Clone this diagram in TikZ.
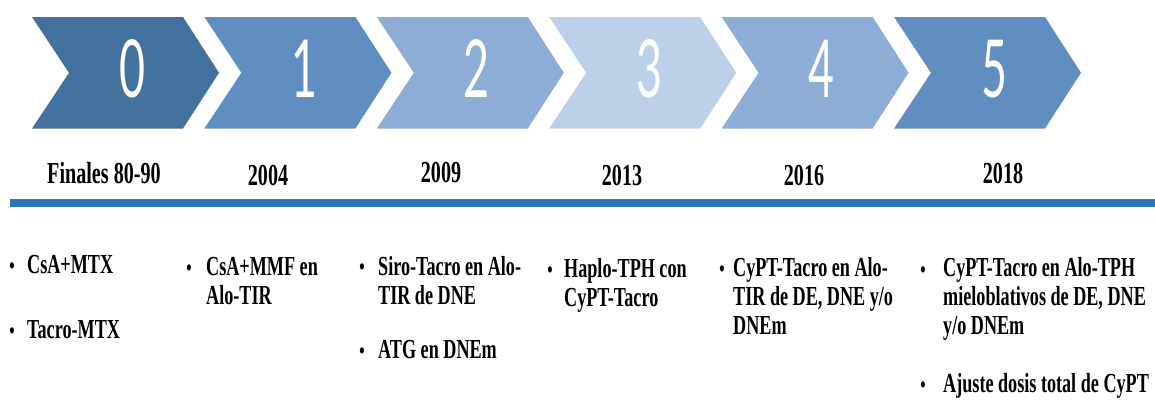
\documentclass[tikz,border=0pt]{standalone}
\usepackage{fontspec}
\setmainfont{Liberation Serif}[FakeStretch=0.66]
\newfontfamily\numfont{Lato}[FakeStretch=0.56]

\definecolor{stepA}{RGB}{65,113,156}
\definecolor{stepB}{RGB}{96,142,193}
\definecolor{stepC}{RGB}{142,173,214}
\definecolor{stepD}{RGB}{189,208,233}
\definecolor{axisblue}{RGB}{46,117,182}

\tikzset{
  num/.style={text=white, inner sep=0pt, font=\numfont\fontsize{80}{80}\selectfont},
  year/.style={anchor=base, inner sep=0pt, font=\bfseries\fontsize{30.5}{30.5}\selectfont},
  % multi-line items are placed by the baseline of their last line
  item/.style={anchor=base west, inner sep=0pt, align=left,
    font=\bfseries\fontsize{27.5}{29}\selectfont},
  dot/.style={anchor=base, inner sep=0pt, font=\bfseries\fontsize{23}{23}\selectfont},
  axis/.style={draw=axisblue, line width=8pt}
}

\begin{document}
\begin{tikzpicture}[x=1pt, y=-1pt]
\clip (0,0) rectangle (1155,405);
\fill[white] (0,0) rectangle (1155,405);

% chevrons with their step numbers
\foreach \i/\c in {0/stepA,1/stepB,2/stepC,3/stepD,4/stepC,5/stepB} {
  \pgfmathsetmacro\L{32+172.4*\i}
  \fill[\c] (\L,17) -- (\L+151,17) -- (\L+187,72.8) -- (\L+151,128.5)
    -- (\L,128.5) -- (\L+37,72.8) -- cycle;
  \node[num] (n\i) at (\L+100,69) {\i};
}

% years
\node[year] (y0) at (104,183) {Finales 80-90};
\node[year] (y1) at (268,185) {2004};
\node[year] (y2) at (441,182) {2009};
\node[year] (y3) at (622,185) {2013};
\node[year] (y4) at (804,185) {2016};
\node[year] (y5) at (1003,183) {2018};

% time axis
\coordinate (axL) at (10,203);
\coordinate (axR) at (1160,203);
\draw[axis] (axL) -- (axR);

% column 0
\node[dot] (b0a) at (12,273) {•};
\node[item] (t0a) at (27,273) {CsA+MTX};
\node[dot] (b0b) at (12,338) {•};
\node[item] (t0b) at (27,338) {Tacro-MTX};

% column 1
\node[dot] (b1a) at (189,275) {•};
\node[item] (t1a) at (206,304) {CsA+MMF en\\Alo-TIR};

% column 2
\node[dot] (b2a) at (362,274) {•};
\node[item] (t2a) at (378,304) {Siro-Tacro en Alo-\\TIR de DNE};
\node[dot] (b2b) at (362,358) {•};
\node[item] (t2b) at (378,358) {ATG en DNEm};

% column 3
\node[dot] (b3a) at (550,277) {•};
\node[item] (t3a) at (564,306) {Haplo-TPH con\\CyPT-Tacro};

% column 4
\node[dot] (b4a) at (722,276) {•};
\node[item] (t4a) at (733,334) {CyPT-Tacro en Alo-\\TIR de DE, DNE y/o\\DNEm};

% column 5
\node[dot] (b5a) at (923,277) {•};
\node[item] (t5a) at (943,334) {CyPT-Tacro en Alo-TPH\\mieloblativos de DE, DNE\\y/o DNEm};
\node[dot] (b5b) at (923,392) {•};
\node[item] (t5b) at (943,392) {Ajuste dosis total de CyPT};
\end{tikzpicture}
\end{document}
